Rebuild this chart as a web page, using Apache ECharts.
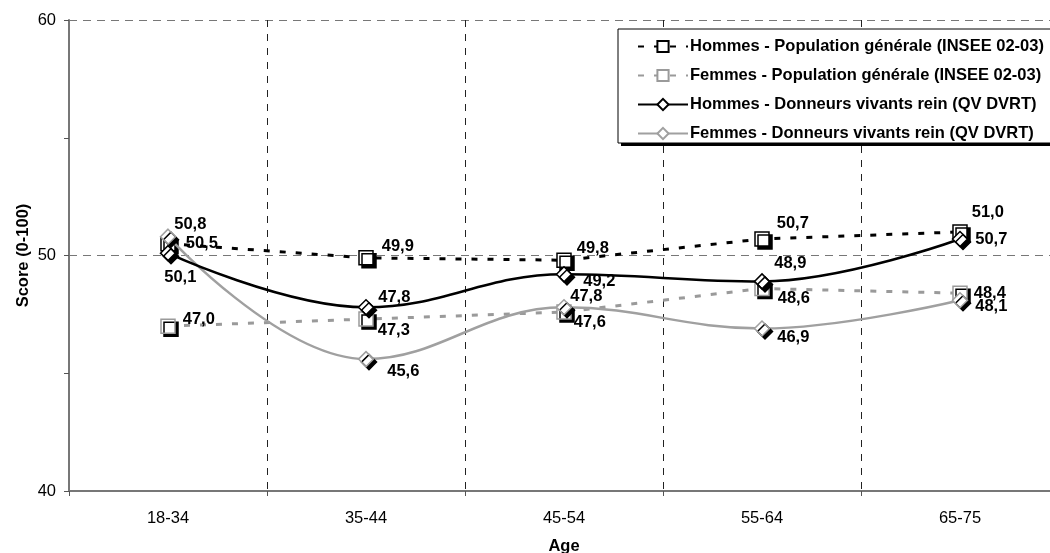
<!DOCTYPE html>
<html>
<head>
<meta charset="utf-8">
<script src="https://cdn.jsdelivr.net/npm/echarts@6/dist/echarts.min.js"></script>
<style>html,body{margin:0;padding:0;background:#fff;overflow:hidden}#c{width:1050px;height:553px}</style>
</head>
<body>
<div id="c"></div>
<script>
const categories = ['18-34', '35-44', '45-54', '55-64', '65-75'];
const hommesPop = [50.5, 49.9, 49.8, 50.7, 51.0];
const femmesPop = [47.0, 47.3, 47.6, 48.6, 48.4];
const hommesDon = [50.1, 47.8, 49.2, 48.9, 50.7];
const femmesDon = [50.8, 45.6, 47.8, 46.9, 48.1];
const yTicks = [40, 50, 60];
const seriesNames = [
  'Hommes - Population générale (INSEE 02-03)',
  'Femmes - Population générale (INSEE 02-03)',
  'Hommes - Donneurs vivants rein (QV DVRT)',
  'Femmes - Donneurs vivants rein (QV DVRT)'
];
// label offsets relative to a 'right' placed label
const offHP = [[8, 0], [6, -11], [3, -12], [5, -16], [2, -19]];
const offFP = [[5, -7], [2, 11], [0, 10], [6, 10], [4, 0]];
const offHD = [[-14, 24], [2, -10], [9, 7], [2, -18], [5, 0]];
const offFD = [[-4, -12], [11, 12], [-4, -11], [5, 9], [5, 6]];

const FONT = 'Liberation Sans, Arial, sans-serif';
const FS = 16.5;
const fmt = v => v.toFixed(1).replace('.', ',');
function build(vals, offs) {
  return vals.map((v, i) => ({ value: v, label: { offset: offs[i] } }));
}
const labelBase = {
  show: true, position: 'right', distance: 2,
  formatter: p => fmt(p.value),
  fontFamily: FONT, fontWeight: 'bold', fontSize: FS, color: '#000'
};
const shadow = { shadowColor: '#000', shadowBlur: 0, shadowOffsetX: 3, shadowOffsetY: 3 };

function mk(name, vals, offs, opts) {
  return {
    name, type: 'line', data: build(vals, offs),
    symbol: opts.symbol, symbolSize: opts.size,
    smooth: opts.smooth,
    lineStyle: { color: opts.color, width: opts.width, type: opts.dash || 'solid' },
    itemStyle: Object.assign({ color: '#fff', borderColor: opts.color, borderWidth: 1.5 }, shadow),
    label: labelBase,
    z: opts.z
  };
}

const chart = echarts.init(document.getElementById('c'), null, { renderer: 'canvas' });
chart.setOption({
  animation: false,
  backgroundColor: '#fff',
  textStyle: { fontFamily: FONT },
  grid: { left: 69, top: 20, width: 990, height: 471, containLabel: false, outerBoundsMode: 'none' },
  graphic: [
    { type: 'rect', z: 3, shape: { x: 621, y: 32, width: 460, height: 114 }, style: { fill: '#000' } },
    { type: 'rect', z: 3, shape: { x: 618, y: 29, width: 460, height: 114 }, style: { fill: '#fff', stroke: '#000', lineWidth: 1 } }
  ],
  legend: {
    orient: 'vertical', left: 618, top: 29, z: 5,
    padding: [9, 30, 6, 19], itemGap: 12, itemWidth: 50, itemHeight: 14,
    textStyle: { fontFamily: FONT, fontWeight: 'bold', fontSize: FS, color: '#000', padding: [0, 0, 0, -3] },
    itemStyle: { shadowColor: 'rgba(0,0,0,0)', shadowOffsetX: 0, shadowOffsetY: 0 },
    data: seriesNames
  },
  xAxis: {
    type: 'category', data: categories, boundaryGap: true,
    name: 'Age', nameLocation: 'middle', nameGap: 47, nameMoveOverlap: false,
    nameTextStyle: { fontWeight: 'bold', fontSize: FS, color: '#000' },
    axisLine: { lineStyle: { color: '#777', width: 2 } },
    axisTick: { show: true, length: 5, lineStyle: { color: '#555' } },
    axisLabel: { fontSize: FS, color: '#000', margin: 19 },
    splitLine: { show: true, lineStyle: { color: '#222', type: [7, 7], width: 1 } }
  },
  yAxis: {
    type: 'value', min: 40, max: 60, interval: 10,
    name: 'Score (0-100)', nameLocation: 'middle', nameGap: 37, nameRotate: 90, nameMoveOverlap: false,
    nameTextStyle: { fontWeight: 'bold', fontSize: FS, color: '#000' },
    axisLine: { show: true, lineStyle: { color: '#777', width: 2 } },
    axisTick: { show: true, length: 5, lineStyle: { color: '#555' } },
    minorTick: { show: true, splitNumber: 2, length: 5, lineStyle: { color: '#555' } },
    axisLabel: { fontSize: FS, color: '#000', margin: 13, formatter: v => (yTicks.includes(v) ? String(v) : '') },
    splitLine: { show: true, lineStyle: { color: '#777', type: [8, 6], width: 1 } }
  },
  series: [
    mk(seriesNames[0], hommesPop, offHP, { symbol: 'rect', size: 14, color: '#000', width: 3, dash: [6, 10], smooth: false, z: 3 }),
    mk(seriesNames[1], femmesPop, offFP, { symbol: 'rect', size: 14, color: '#9a9a9a', width: 3, dash: [6, 10], smooth: false, z: 2 }),
    mk(seriesNames[2], hommesDon, offHD, { symbol: 'diamond', size: 15, color: '#000', width: 2.5, smooth: 0.4, z: 5 }),
    mk(seriesNames[3], femmesDon, offFD, { symbol: 'diamond', size: 15, color: '#a0a0a0', width: 2.5, smooth: 0.4, z: 4 })
  ]
});
</script>
</body>
</html>
